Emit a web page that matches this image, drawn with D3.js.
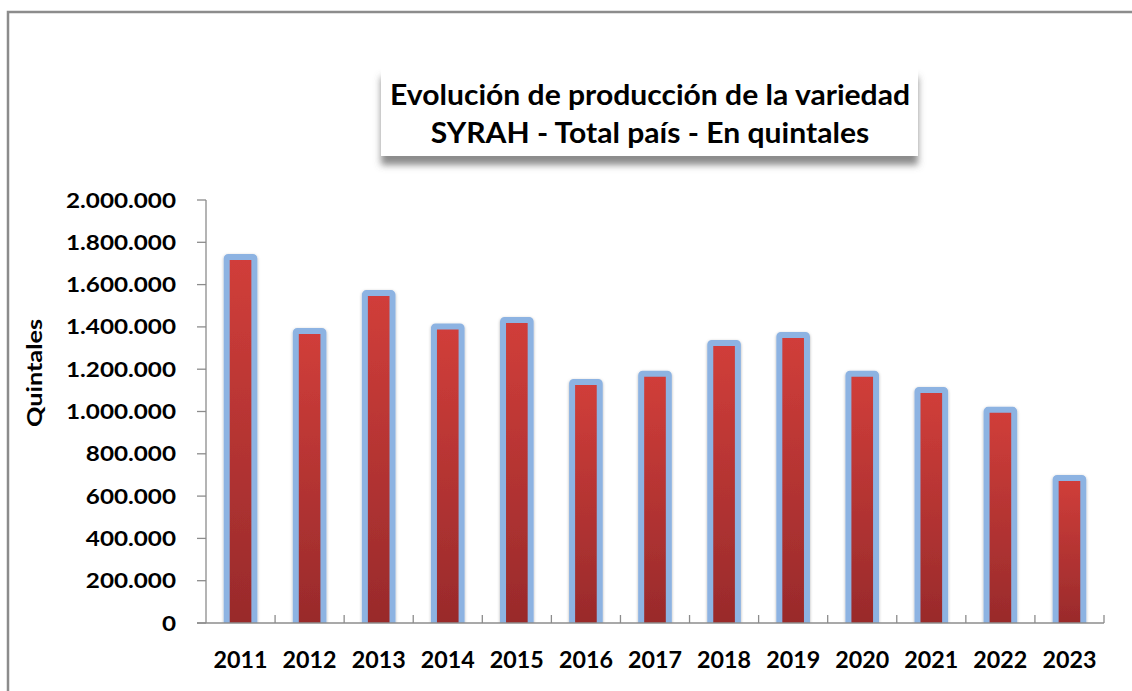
<!DOCTYPE html>
<html>
<head>
<meta charset="utf-8">
<script src="https://cdn.jsdelivr.net/npm/d3@7"></script>
<style>
  body { margin: 0; background: #fff; }
  text { font-family: Lato, "Open Sans", sans-serif; font-weight: bold; fill: #000; }
</style>
</head>
<body>
<svg id="chart" width="1132" height="691"></svg>
<script>
// data
var years = ["2011","2012","2013","2014","2015","2016","2017","2018","2019","2020","2021","2022","2023"];
var quintales = [1731000, 1381000, 1560000, 1402000, 1433000, 1140000, 1179000, 1324000, 1362000, 1179000, 1102000, 1008000, 686000];
var yTicks = [0, 200000, 400000, 600000, 800000, 1000000, 1200000, 1400000, 1600000, 1800000, 2000000];
var titleLines = ["Evolución de producción de la variedad", "SYRAH - Total país - En quintales"];
var yTitle = "Quintales";

var svg = d3.select("#chart");
var W = 1132, H = 691;
var plotL = 206, plotR = 1104, plotT = 200, plotB = 623;

var fmt = d3.formatLocale({decimal: ",", thousands: ".", grouping: [3], currency: ["$", ""]}).format(",.0f");

// stretch text to a target width (original used a narrow font)
function fit(sel, sx) {
    sel.each(function () {
        var w = this.getComputedTextLength();
        d3.select(this).attr("textLength", w * sx).attr("lengthAdjust", "spacingAndGlyphs");
    });
}
function ratio(str, size, target) {
    var t = svg.append("text").style("font-size", size + "px").text(str);
    var w = t.node().getComputedTextLength();
    t.remove();
    return target / w;
}

var defs = svg.append("defs");
var grad = defs.append("linearGradient").attr("id", "barGrad")
    .attr("x1", 0).attr("y1", 0).attr("x2", 0).attr("y2", 1);
grad.append("stop").attr("offset", "0%").attr("stop-color", "#d13e3a");
grad.append("stop").attr("offset", "100%").attr("stop-color", "#982a2b");

var shTitle = defs.append("filter").attr("id", "shTitle")
    .attr("x", "-5%").attr("y", "-10%").attr("width", "110%").attr("height", "140%");
shTitle.append("feDropShadow").attr("dx", 0).attr("dy", 9).attr("stdDeviation", 3.5)
    .attr("flood-color", "#666").attr("flood-opacity", 0.75);

var shBar = defs.append("filter").attr("id", "shBar")
    .attr("x", "-30%").attr("y", "-10%").attr("width", "160%").attr("height", "120%");
shBar.append("feDropShadow").attr("dx", 0).attr("dy", 1).attr("stdDeviation", 1.5)
    .attr("flood-color", "#000").attr("flood-opacity", 0.3);

defs.append("clipPath").attr("id", "plotClip")
    .append("rect").attr("x", plotL).attr("y", 0).attr("width", plotR - plotL).attr("height", plotB);

// outer frame
svg.append("path")
    .attr("d", "M8," + H + "V12H" + W)
    .attr("fill", "none")
    .attr("stroke", "#8c8c8c")
    .attr("stroke-width", 2.5);

var x = d3.scaleBand().domain(years).range([plotL, plotR])
    .paddingInner(0.6).paddingOuter(0.3);
var y = d3.scaleLinear().domain([0, 2000000]).range([plotB, plotT]);

// bars
svg.append("g").attr("clip-path", "url(#plotClip)")
    .selectAll("rect")
    .data(years)
    .enter().append("rect")
    .attr("x", function (d) { return x(d); })
    .attr("y", function (d, i) { return y(quintales[i]); })
    .attr("width", x.bandwidth())
    .attr("height", function (d, i) { return plotB - y(quintales[i]) + 4; })
    .attr("rx", 1.5)
    .attr("fill", "url(#barGrad)")
    .attr("stroke", "#8db3e2")
    .attr("stroke-width", 6)
    .attr("stroke-linejoin", "round")
    .attr("filter", "url(#shBar)");

// y axis
var gy = svg.append("g");
gy.append("line").attr("x1", plotL).attr("x2", plotL).attr("y1", plotT).attr("y2", plotB)
    .attr("stroke", "#8c8c8c").attr("stroke-width", 1.3);
gy.selectAll(".tk").data(yTicks).enter().append("line")
    .attr("x1", plotL - 9).attr("x2", plotL)
    .attr("y1", function (d) { return y(d); }).attr("y2", function (d) { return y(d); })
    .attr("stroke", "#8c8c8c").attr("stroke-width", 1.3);
var sy = ratio("2.000.000", 21.5, 110);
gy.selectAll("text").data(yTicks).enter().append("text")
    .attr("x", 176)
    .attr("y", function (d) { return y(d) + 7.5; })
    .attr("text-anchor", "end")
    .style("font-size", "21.5px")
    .text(function (d) { return fmt(d); })
    .call(fit, sy);

// x axis
var gx = svg.append("g");
gx.append("line").attr("x1", plotL - 9).attr("x2", plotR).attr("y1", plotB).attr("y2", plotB)
    .attr("stroke", "#8c8c8c").attr("stroke-width", 1.3);
gx.selectAll(".tk").data(years).enter().append("line")
    .attr("x1", function (d) { return x(d) + x.bandwidth() / 2 + x.step() / 2; })
    .attr("x2", function (d) { return x(d) + x.bandwidth() / 2 + x.step() / 2; })
    .attr("y1", plotB - 8).attr("y2", plotB)
    .attr("stroke", "#8c8c8c").attr("stroke-width", 1.3);
var sxl = ratio("2011", 22, 54);
gx.selectAll("text").data(years).enter().append("text")
    .attr("x", function (d) { return x(d) + x.bandwidth() / 2; })
    .attr("y", 668)
    .attr("text-anchor", "middle")
    .style("font-size", "22px")
    .text(function (d) { return d; })
    .call(fit, sxl);

// y title
var syl = ratio(yTitle, 20, 108);
svg.append("text")
    .attr("transform", "translate(42,373) rotate(-90)")
    .attr("text-anchor", "middle")
    .style("font-size", "20px")
    .text(yTitle)
    .call(fit, syl);

// title box
svg.append("rect")
    .attr("x", 381).attr("y", 68).attr("width", 537).attr("height", 88)
    .attr("fill", "#fff")
    .attr("filter", "url(#shTitle)");
var st = ratio(titleLines[0], 29, 520);
svg.selectAll(".title").data(titleLines).enter().append("text")
    .attr("class", "title")
    .attr("x", 650)
    .attr("y", function (d, i) { return 105 + i * 38; })
    .attr("text-anchor", "middle")
    .style("font-size", "29px")
    .text(function (d) { return d; })
    .call(fit, st);
</script>
</body>
</html>
